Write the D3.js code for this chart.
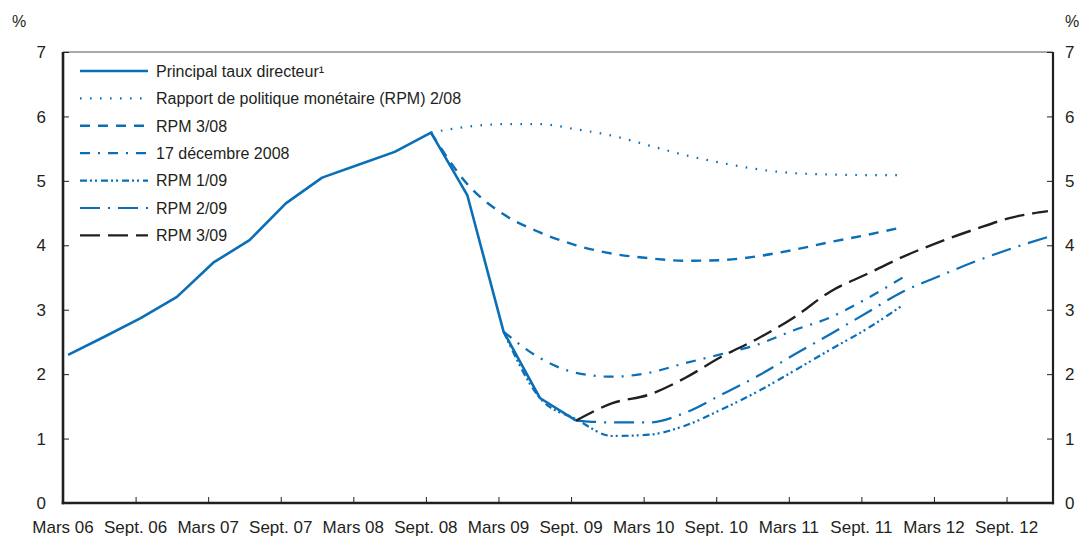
<!DOCTYPE html>
<html>
<head>
<meta charset="utf-8">
<script src="https://cdn.jsdelivr.net/npm/d3@7"></script>
<style>
  body { margin: 0; background: #fff; }
  text { font-family: "Liberation Sans", Arial, sans-serif; fill: #231f20; }
</style>
</head>
<body>
<div id="chart"></div>
<script>
// Quarterly series, index 0 = 1st quarter 2006
const policyRate = [2.3, 2.58, 2.87, 3.2, 3.73, 4.08, 4.65, 5.05, 5.25, 5.45, 5.75, 4.78, 2.66, 1.63, 1.28];
const rpm208 = [5.75, 5.84, 5.88, 5.88, 5.8, 5.7, 5.55, 5.4, 5.28, 5.18, 5.12, 5.1, 5.09, 5.09];
const rpm308 = [5.75, 4.95, 4.48, 4.2, 4.0, 3.87, 3.8, 3.76, 3.77, 3.83, 3.93, 4.05, 4.16, 4.28];
const dec08 = [2.66, 2.25, 2.02, 1.96, 2.02, 2.17, 2.31, 2.46, 2.68, 2.88, 3.17, 3.5];
const rpm109 = [2.66, 1.63, 1.3, 1.04, 1.06, 1.2, 1.45, 1.73, 2.05, 2.38, 2.7, 3.07];
const rpm209 = [1.28, 1.25, 1.25, 1.4, 1.68, 1.97, 2.3, 2.62, 2.95, 3.28, 3.52, 3.75, 3.95, 4.13];
const rpm309 = [1.28, 1.55, 1.68, 1.94, 2.27, 2.55, 2.88, 3.28, 3.55, 3.82, 4.05, 4.25, 4.43, 4.53];

const tickLabels = ["Mars 06", "Sept. 06", "Mars 07", "Sept. 07", "Mars 08", "Sept. 08", "Mars 09",
                    "Sept. 09", "Mars 10", "Sept. 10", "Mars 11", "Sept. 11", "Mars 12", "Sept. 12"];
const yTicks = [0, 1, 2, 3, 4, 5, 6, 7];

const blue = "#0a6fb7", black = "#231f20";

const series = [
  {name: "Principal taux directeur\u00b9", values: policyRate, start: 0, color: blue, dash: null, width: 2.6},
  {name: "Rapport de politique monétaire (RPM) 2/08", values: rpm208, start: 10, color: blue, dash: "1.6,8.4", width: 2.2},
  {name: "RPM 3/08", values: rpm308, start: 10, color: blue, dash: "10,8", width: 2.4},
  {name: "17 décembre 2008", values: dec08, start: 12, color: blue, dash: "10,8,2,8", width: 2.2},
  {name: "RPM 1/09", values: rpm109, start: 12, color: blue, dash: "7,3,2,3,2,4", width: 2.2},
  {name: "RPM 2/09", values: rpm209, start: 14, color: blue, dash: "20,8,2,8", width: 2.2},
  {name: "RPM 3/09", values: rpm309, start: 14, color: black, dash: "20,8", width: 2.4}
];

function createPolicyRateChart() {
    const W = 1088, H = 538;
    const left = 63, right = 1053, top = 52, bottom = 503;

    const svg = d3.select("#chart")
        .append("svg")
        .attr("width", W)
        .attr("height", H);

    // x in quarters; ticks sit slightly before the quarter points
    const x = d3.scaleLinear().domain([-0.14, 27.14]).range([left, right]);
    const y = d3.scaleLinear().domain([0, 7]).range([bottom, top]);

    // thin top border
    svg.append("line").attr("x1", left).attr("x2", right).attr("y1", top).attr("y2", top)
        .attr("stroke", "#555").attr("stroke-width", 1);

    // left axis
    const yl = svg.append("g")
        .attr("transform", `translate(${left},0)`)
        .call(d3.axisRight(y).tickValues(yTicks).tickSize(6).tickFormat(""));
    yl.select(".domain").remove();
    yl.selectAll("line").attr("stroke", black);

    // right axis
    const yr = svg.append("g")
        .attr("transform", `translate(${right},0)`)
        .call(d3.axisLeft(y).tickValues(yTicks).tickSize(6).tickFormat(""));
    yr.select(".domain").remove();
    yr.selectAll("line").attr("stroke", black);

    // bottom axis (ticks pointing up)
    const xa = svg.append("g")
        .attr("transform", `translate(0,${bottom})`)
        .call(d3.axisTop(x).tickValues(tickLabels.map((d, i) => i * 2 - 0.14)).tickSize(6).tickFormat(""));
    xa.select(".domain").remove();
    xa.selectAll("line").attr("stroke", black);

    svg.append("line").attr("x1", left).attr("x2", left).attr("y1", top).attr("y2", bottom + 1.2)
        .attr("stroke", black).attr("stroke-width", 2.6);
    svg.append("line").attr("x1", right).attr("x2", right).attr("y1", top).attr("y2", bottom + 1.2)
        .attr("stroke", black).attr("stroke-width", 2.2);
    svg.append("line").attr("x1", left - 1.3).attr("x2", right + 1.1).attr("y1", bottom).attr("y2", bottom)
        .attr("stroke", black).attr("stroke-width", 2.6);

    // tick labels
    svg.selectAll(".ylab-l").data(yTicks).enter().append("text")
        .attr("x", 46).attr("y", d => y(d)).attr("dy", "0.36em")
        .attr("text-anchor", "end").attr("font-size", 17).text(d => d);
    svg.selectAll(".ylab-r").data(yTicks).enter().append("text")
        .attr("x", 1065).attr("y", d => y(d)).attr("dy", "0.36em")
        .attr("text-anchor", "start").attr("font-size", 17).text(d => d);
    svg.selectAll(".xlab").data(tickLabels).enter().append("text")
        .attr("x", (d, i) => x(i * 2 - 0.14)).attr("y", 533)
        .attr("text-anchor", "middle").attr("font-size", 17).text(d => d);

    svg.append("text").attr("x", 12).attr("y", 27).attr("font-size", 16).text("%");
    svg.append("text").attr("x", 1065).attr("y", 27).attr("font-size", 16).text("%");

    // lines: solid history drawn straight, projections smoothed
    const smooth = d3.line().x(d => x(d.q)).y(d => y(d.v)).curve(d3.curveMonotoneX);
    const straight = d3.line().x(d => x(d.q)).y(d => y(d.v));

    series.forEach(s => {
        const pts = s.values.map((v, i) => ({q: s.start + i, v: v}));
        svg.append("path")
            .datum(pts)
            .attr("d", s.dash ? smooth : straight)
            .attr("fill", "none")
            .attr("stroke", s.color)
            .attr("stroke-width", s.width)
            .attr("stroke-dasharray", s.dash)
            .attr("stroke-linejoin", "round");
    });

    // legend
    const lg = svg.append("g");
    series.forEach((s, i) => {
        const ly = 71 + i * 27.4;
        lg.append("line")
            .attr("x1", 80).attr("x2", 148).attr("y1", ly).attr("y2", ly)
            .attr("stroke", s.color).attr("stroke-width", s.width)
            .attr("stroke-dasharray", s.dash);
        lg.append("text")
            .attr("x", 156).attr("y", ly).attr("dy", "0.36em")
            .attr("font-size", 16).text(s.name);
    });
}

createPolicyRateChart();
</script>
</body>
</html>
